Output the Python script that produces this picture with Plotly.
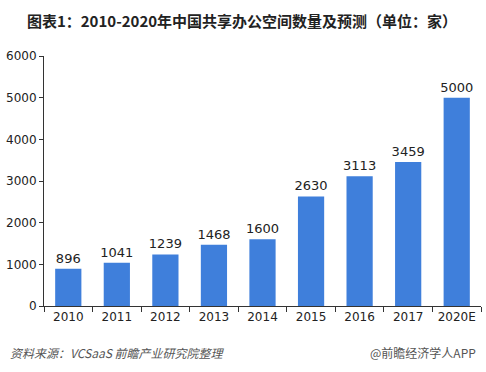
import plotly.graph_objects as go

years = ["2010", "2011", "2012", "2013", "2014", "2015", "2016", "2017", "2020E"]
counts = [896, 1041, 1239, 1468, 1600, 2630, 3113, 3459, 5000]
y_ticks = [0, 1000, 2000, 3000, 4000, 5000, 6000]

title_text = "图表1：2010-2020年中国共享办公空间数量及预测（单位：家）"
source_text = "资料来源：VCSaaS 前瞻产业研究院整理"
brand_text = "@前瞻经济学人APP"

W, H = 486, 372
L, R, T, B = 44, 5, 56, 66
plot_w = W - L - R
plot_h = H - T - B

fig = go.Figure(go.Bar(
    x=years, y=counts,
    marker=dict(color="#3F7FDB", line=dict(width=0)),
    text=[str(v) for v in counts],
    textposition="outside",
    constraintext="none",
    textfont=dict(size=13, color="#222222", family="DejaVu Sans"),
    cliponaxis=False,
    hoverinfo="skip",
))

fig.update_layout(
    width=W, height=H, autosize=False,
    margin=dict(l=L, r=R, t=T, b=B, pad=0),
    paper_bgcolor="white", plot_bgcolor="white",
    bargap=0.46,
    showlegend=False,
    font=dict(family="DejaVu Sans", size=12, color="#222222"),
    title=dict(text="<b>" + title_text + "</b>", x=242 / W, xanchor="center", xref="container",
               y=1 - 22 / H, yanchor="middle", yref="container",
               font=dict(family="Noto Sans CJK SC", size=15, color="#222222")),
    xaxis=dict(showline=True, linecolor="#333333", linewidth=1, automargin=False,
               ticks="outside", tickson="boundaries", ticklen=5, tickcolor="#333333",
               tickfont=dict(size=12, color="#222222"), showgrid=False, fixedrange=True),
    yaxis=dict(range=[0, 6000], tickvals=y_ticks, showline=True, linecolor="#333333",
               linewidth=1, ticks="outside", ticklen=4, tickcolor="#333333",
               showgrid=False, zeroline=False, automargin=False, fixedrange=True,
               tickfont=dict(size=12, color="#222222")),
    annotations=[
        dict(text="<i>" + source_text + "</i>", x=(8 - L) / plot_w, y=(H - B - 352) / plot_h,
             xref="paper", yref="paper", xanchor="left", yanchor="middle",
             showarrow=False,
             font=dict(family="Noto Sans CJK SC", size=12, color="#555555")),
        dict(text=brand_text, x=(478 - L) / plot_w, y=(H - B - 352) / plot_h,
             xref="paper", yref="paper", xanchor="right", yanchor="middle",
             showarrow=False,
             font=dict(family="Noto Sans CJK SC", size=12, color="#555555")),
    ],
)

fig.write_html("out.html", config={"displayModeBar": False},
               post_script="document.body.style.margin='0';")
